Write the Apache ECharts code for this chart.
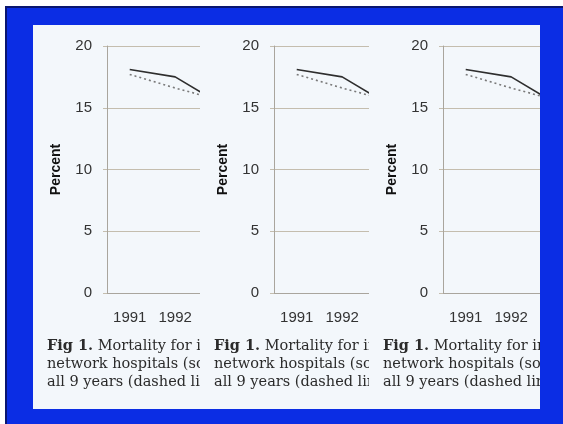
<!DOCTYPE html>
<html>
<head>
<meta charset="utf-8">
<script src="https://cdn.jsdelivr.net/npm/echarts@6/dist/echarts.min.js"></script>
<style>
    body { margin: 0; background: #fff; width: 563px; height: 424px; overflow: hidden; position: relative; }
    .frame { position: absolute; left: 5px; top: 6px; width: 620px; height: 480px; background: #0b2de4;
        border-top: 2px solid #0a1670; border-left: 2px solid #0a1670; box-sizing: border-box; }
    .panel { position: absolute; left: 33px; top: 25px; width: 507px; height: 384px; background: #f3f7fb; overflow: hidden; }
    .tile { position: absolute; top: 0; height: 384px; overflow: hidden; }
    .chart { position: absolute; left: 0; top: 0; width: 520px; height: 384px; }
</style>
</head>
<body>
<div class="frame"></div>
<div class="panel">
    <div class="tile" style="left:0;width:167px"><div class="chart" id="tile1"></div></div>
    <div class="tile" style="left:167px;width:169px"><div class="chart" id="tile2"></div></div>
    <div class="tile" style="left:336px;width:171px"><div class="chart" id="tile3"></div></div>
</div>
<script>
// data
var years = ['1991', '1992', '1993', '1994', '1995', '1996', '1997', '1998', '1999'];
var networkRate = [18.1, 17.5, 15.3];   // solid line
var allRate = [17.7, 16.6, 15.6];       // dashed line
var yMin = 0, yMax = 20, yStep = 5;
var captionLines = [
    ['Fig 1.', ' Mortality for in-hospital deaths'],
    ['', 'network hospitals (solid line) and'],
    ['', 'all 9 years (dashed line)']
];

function makeTile(id) {
    var chart = echarts.init(document.getElementById(id));
    var caption = [];
    for (var i = 0; i < captionLines.length; i++) {
        caption.push({
            type: 'text',
            left: 14,
            top: 314 + i * 18,
            style: {
                text: (captionLines[i][0] ? '{b|' + captionLines[i][0] + '}' : '') + captionLines[i][1],
                font: '14.5px "DejaVu Serif"',
                fill: '#2b2b2b',
                rich: {
                    b: { fontFamily: 'DejaVu Serif', fontSize: 14.5, fontWeight: 'bold', fill: '#2b2b2b' }
                }
            }
        });
    }
    chart.setOption({
        animation: false,
        textStyle: { fontFamily: 'Liberation Sans' },
        grid: { left: 74, top: 21, width: 409, height: 247 },
        xAxis: {
            type: 'category',
            data: years,
            boundaryGap: true,
            axisLine: { lineStyle: { color: '#a9a59d', width: 1 } },
            axisTick: { inside: true, length: 3, lineStyle: { color: '#a9a59d' } },
            axisLabel: { color: '#333', fontSize: 15, margin: 17, interval: 0 }
        },
        yAxis: {
            type: 'value',
            min: yMin,
            max: yMax,
            interval: yStep,
            name: 'Percent',
            nameLocation: 'middle',
            nameGap: 44,
            nameTextStyle: { color: '#111', fontSize: 14, fontWeight: 'bold' },
            axisLine: { show: true, lineStyle: { color: '#a9a59d', width: 1 } },
            axisTick: { show: true, length: 4, lineStyle: { color: '#c4bdae' } },
            axisLabel: { color: '#333', fontSize: 15, margin: 15 },
            splitLine: { lineStyle: { color: '#c4bdae', width: 1.2 } }
        },
        series: [
            {
                type: 'line',
                data: networkRate,
                symbol: 'none',
                lineStyle: { color: '#2e2e2e', width: 1.6 }
            },
            {
                type: 'line',
                data: allRate,
                symbol: 'none',
                lineStyle: { color: '#7a7a7a', width: 1.6, type: [2, 3] }
            }
        ],
        graphic: caption
    });
    return chart;
}

var tile1 = makeTile('tile1');
var tile2 = makeTile('tile2');
var tile3 = makeTile('tile3');
</script>
</body>
</html>
